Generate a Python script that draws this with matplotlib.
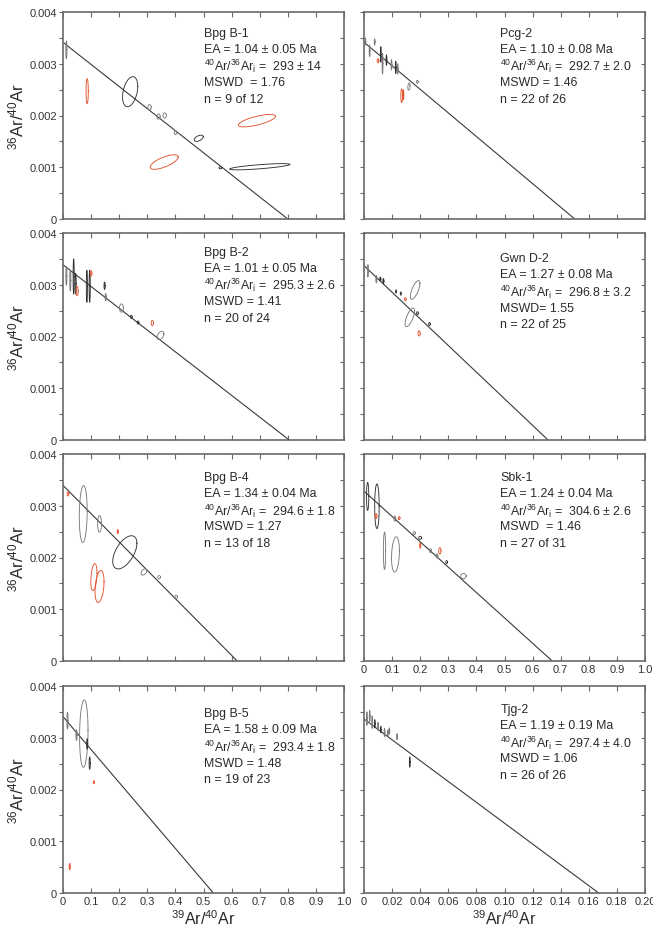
import numpy as np
import matplotlib
matplotlib.use("Agg")
import matplotlib.pyplot as plt

plt.rcParams['font.family'] = ['Liberation Sans', 'DejaVu Sans']
plt.rcParams['mathtext.fontset'] = 'custom'
plt.rcParams['mathtext.rm'] = 'Liberation Sans'
plt.rcParams['mathtext.it'] = 'Liberation Sans:italic'
plt.rcParams['mathtext.bf'] = 'Liberation Sans:bold'

# ---------------- data ----------------
# each ellipse: (x, half-width x, y, half-height y, correlation, colour key)
B1_PTS = [
    (0.012, 0.002, 0.00327, 0.00017, 0.0, 'g'),
    (0.086, 0.004, 0.00247, 0.00024, 0.0, 'r'),
    (0.239, 0.027, 0.00246, 0.00029, 0.35, 'k'),
    (0.308, 0.006, 0.00216, 0.00005, 0.0, 'g'),
    (0.340, 0.006, 0.00198, 0.00005, 0.0, 'g'),
    (0.362, 0.006, 0.00200, 0.00005, 0.0, 'g'),
    (0.400, 0.004, 0.00167, 0.00004, 0.0, 'g'),
    (0.483, 0.016, 0.00156, 0.00006, 0.5, 'k'),
    (0.560, 0.005, 0.00099, 0.00002, 0.0, 'k'),
    (0.690, 0.066, 0.00190, 0.00012, 0.7, 'r'),
    (0.360, 0.050, 0.00110, 0.00014, 0.7, 'r'),
    (0.700, 0.107, 0.00101, 0.00006, 0.75, 'k'),
]
PCG2_PTS = [
    (0.005, 0.0015, 0.00343, 0.00007, 0.0, 'g'),
    (0.020, 0.0015, 0.00325, 0.00011, 0.0, 'g'),
    (0.038, 0.0015, 0.00342, 0.00006, 0.0, 'g'),
    (0.050, 0.003, 0.00306, 0.00004, 0.0, 'r'),
    (0.060, 0.0015, 0.00318, 0.00015, 0.0, 'k'),
    (0.066, 0.0015, 0.00300, 0.00020, 0.0, 'g'),
    (0.080, 0.0015, 0.00307, 0.00010, 0.0, 'k'),
    (0.098, 0.0015, 0.00298, 0.00010, 0.0, 'g'),
    (0.113, 0.0015, 0.00293, 0.00012, 0.0, 'k'),
    (0.120, 0.0015, 0.00290, 0.00010, 0.0, 'g'),
    (0.134, 0.003, 0.00238, 0.00013, 0.0, 'r'),
    (0.140, 0.0015, 0.00240, 0.00010, 0.0, 'r'),
    (0.160, 0.004, 0.00256, 0.00007, 0.3, 'g'),
    (0.190, 0.003, 0.00265, 0.00003, 0.0, 'g'),
]
B2_PTS = [
    (0.012, 0.002, 0.00317, 0.00018, 0.0, 'g'),
    (0.026, 0.002, 0.00308, 0.00020, 0.0, 'g'),
    (0.038, 0.002, 0.00316, 0.00034, 0.0, 'k'),
    (0.045, 0.002, 0.00302, 0.00020, 0.0, 'k'),
    (0.050, 0.004, 0.00288, 0.00009, 0.0, 'r'),
    (0.085, 0.002, 0.00297, 0.00031, 0.0, 'k'),
    (0.095, 0.002, 0.00297, 0.00031, 0.0, 'k'),
    (0.100, 0.003, 0.00322, 0.00005, 0.0, 'r'),
    (0.148, 0.002, 0.00298, 0.00007, 0.0, 'k'),
    (0.152, 0.002, 0.00276, 0.00007, 0.0, 'g'),
    (0.208, 0.007, 0.00255, 0.00008, 0.0, 'g'),
    (0.243, 0.003, 0.00238, 0.00003, 0.0, 'k'),
    (0.267, 0.003, 0.00227, 0.00003, 0.0, 'k'),
    (0.318, 0.004, 0.00226, 0.00005, 0.0, 'r'),
    (0.347, 0.012, 0.00202, 0.00008, 0.4, 'g'),
]
GWN_PTS = [
    (0.014, 0.002, 0.00327, 0.00012, 0.0, 'g'),
    (0.044, 0.002, 0.00311, 0.00007, 0.0, 'g'),
    (0.058, 0.002, 0.00311, 0.00004, 0.0, 'k'),
    (0.069, 0.002, 0.00307, 0.00005, 0.0, 'k'),
    (0.114, 0.002, 0.00287, 0.00003, 0.0, 'k'),
    (0.131, 0.002, 0.00283, 0.00003, 0.0, 'k'),
    (0.147, 0.003, 0.00272, 0.00003, 0.0, 'r'),
    (0.182, 0.017, 0.00290, 0.00018, 0.7, 'g'),
    (0.163, 0.017, 0.00237, 0.00018, 0.7, 'g'),
    (0.190, 0.003, 0.00245, 0.00003, 0.0, 'k'),
    (0.196, 0.004, 0.00206, 0.00005, 0.0, 'r'),
    (0.233, 0.003, 0.00224, 0.00003, 0.0, 'k'),
]
B4_PTS = [
    (0.018, 0.003, 0.00323, 0.00004, 0.0, 'r'),
    (0.072, 0.014, 0.00284, 0.00055, 0.1, 'g'),
    (0.130, 0.007, 0.00265, 0.00016, 0.0, 'g'),
    (0.195, 0.002, 0.00250, 0.00004, 0.0, 'r'),
    (0.220, 0.043, 0.00210, 0.00032, 0.55, 'k'),
    (0.288, 0.010, 0.00172, 0.00006, 0.4, 'g'),
    (0.342, 0.005, 0.00162, 0.00003, 0.0, 'g'),
    (0.403, 0.005, 0.00124, 0.00003, 0.0, 'g'),
    (0.110, 0.011, 0.00162, 0.00026, 0.3, 'r'),
    (0.130, 0.016, 0.00144, 0.00031, 0.3, 'r'),
]
SBK_PTS = [
    (0.013, 0.004, 0.00318, 0.00027, 0.0, 'k'),
    (0.046, 0.008, 0.00299, 0.00043, 0.0, 'k'),
    (0.043, 0.003, 0.00280, 0.00005, 0.0, 'r'),
    (0.110, 0.003, 0.00275, 0.00005, 0.0, 'g'),
    (0.125, 0.003, 0.00276, 0.00003, 0.0, 'r'),
    (0.073, 0.004, 0.00213, 0.00036, 0.0, 'g'),
    (0.112, 0.014, 0.00206, 0.00034, 0.2, 'g'),
    (0.179, 0.004, 0.00247, 0.00003, 0.0, 'g'),
    (0.200, 0.005, 0.00238, 0.00003, 0.0, 'k'),
    (0.200, 0.002, 0.00223, 0.00005, 0.0, 'r'),
    (0.237, 0.003, 0.00213, 0.00004, 0.0, 'g'),
    (0.260, 0.003, 0.00203, 0.00004, 0.0, 'g'),
    (0.270, 0.004, 0.00213, 0.00006, 0.0, 'r'),
    (0.294, 0.003, 0.00191, 0.00003, 0.0, 'k'),
    (0.354, 0.010, 0.00164, 0.00005, 0.0, 'g'),
]
B5_PTS = [
    (0.016, 0.002, 0.00333, 0.00016, 0.0, 'g'),
    (0.048, 0.002, 0.00305, 0.00010, 0.0, 'g'),
    (0.074, 0.015, 0.00308, 0.00065, 0.1, 'g'),
    (0.086, 0.002, 0.00288, 0.00010, 0.0, 'k'),
    (0.095, 0.002, 0.00251, 0.00012, 0.0, 'k'),
    (0.110, 0.002, 0.00214, 0.00003, 0.0, 'r'),
    (0.024, 0.002, 0.00051, 0.00006, 0.0, 'r'),
]
TJG_PTS = [
    (0.0021, 0.0003, 0.00337, 0.00013, 0.0, 'g'),
    (0.0041, 0.0003, 0.00342, 0.00011, 0.0, 'g'),
    (0.0058, 0.0003, 0.00330, 0.00012, 0.0, 'g'),
    (0.0077, 0.0003, 0.00327, 0.00008, 0.0, 'k'),
    (0.0100, 0.0003, 0.00322, 0.00008, 0.0, 'g'),
    (0.0120, 0.0003, 0.00316, 0.00006, 0.0, 'k'),
    (0.0146, 0.0003, 0.00310, 0.00008, 0.0, 'g'),
    (0.0170, 0.0003, 0.00309, 0.00006, 0.0, 'g'),
    (0.0180, 0.0003, 0.00313, 0.00006, 0.0, 'g'),
    (0.0235, 0.0003, 0.00302, 0.00006, 0.0, 'g'),
    (0.0326, 0.0003, 0.00253, 0.00010, 0.0, 'k'),
]

SAMPLES = ["Bpg B-1", "Pcg-2", "Bpg B-2", "Gwn D-2", "Bpg B-4", "Sbk-1", "Bpg B-5", "Tjg-2"]
AGES = ["1.04 ± 0.05", "1.10 ± 0.08", "1.01 ± 0.05", "1.27 ± 0.08",
        "1.34 ± 0.04", "1.24 ± 0.04", "1.58 ± 0.09", "1.19 ± 0.19"]
INITIALS = ["293 ± 14", "292.7 ± 2.0", "295.3 ± 2.6", "296.8 ± 3.2",
            "294.6 ± 1.8", "304.6 ± 2.6", "293.4 ± 1.8", "297.4 ± 4.0"]
MSWD = ["MSWD  = 1.76", "MSWD = 1.46", "MSWD = 1.41", "MSWD= 1.55",
        "MSWD = 1.27", "MSWD  = 1.46", "MSWD = 1.48", "MSWD = 1.06"]
NCOUNT = ["n = 9 of 12", "n = 22 of 26", "n = 20 of 24", "n = 22 of 25",
          "n = 13 of 18", "n = 27 of 31", "n = 19 of 23", "n = 26 of 26"]
INIT_VAL = [293.0, 292.7, 295.3, 296.8, 294.6, 304.6, 293.4, 297.4]
X_INTERCEPT = [0.80, 0.75, 0.805, 0.655, 0.62, 0.67, 0.535, 0.167]
ALL_PTS = [B1_PTS, PCG2_PTS, B2_PTS, GWN_PTS, B4_PTS, SBK_PTS, B5_PTS, TJG_PTS]
X_MAX = [1.0, 1.0, 1.0, 1.0, 1.0, 1.0, 1.0, 0.2]
X_STEP = [0.1, 0.1, 0.1, 0.1, 0.1, 0.1, 0.1, 0.02]

COLORS = {'k': '#333333', 'g': '#7a7a7a', 'r': '#e4532f'}

# ---------------- layout ----------------
fig = plt.figure(figsize=(6.53, 9.29), dpi=100)
W, H = 653, 929
col_left = [63, 364]
ax_w = 281
row_top = [13, 234, 455, 687]
ax_h = 207
text_y = [0.90, 0.90, 0.91, 0.88, 0.89, 0.89, 0.87, 0.89]

spine_col = '#6a6a6a'
t = np.linspace(0, 2 * np.pi, 100)

for i in range(8):
    r, c = divmod(i, 2)
    left = col_left[c] / W
    bottom = 1 - (row_top[r] + ax_h) / H
    ax = fig.add_axes([left, bottom, ax_w / W, ax_h / H])
    xmax = X_MAX[i]
    ax.set_xlim(0, xmax)
    ax.set_ylim(0, 0.004)

    # regression line
    y0 = 1.0 / INIT_VAL[i]
    ax.plot([0, X_INTERCEPT[i]], [y0, 0], color='#3a3a3a', lw=0.8, zorder=2)

    # error ellipses
    for (cx, sx, cy, sy, rho, ck) in ALL_PTS[i]:
        ex = cx + sx * np.cos(t)
        ey = cy + sy * (rho * np.cos(t) + np.sqrt(1 - rho ** 2) * np.sin(t))
        ax.plot(ex, ey, color=COLORS[ck], lw=0.65, zorder=3)

    # annotation
    ty = text_y[i]
    dy = 0.08
    lines = [SAMPLES[i], "EA = " + AGES[i] + " Ma",
             r"$^{40}$Ar/$^{36}$Ar$_{\rm i}$ =  " + INITIALS[i],
             MSWD[i], NCOUNT[i]]
    tx = 0.50 if c == 0 else 0.485
    for k, s in enumerate(lines):
        ax.text(tx, ty - k * dy, s, transform=ax.transAxes, fontsize=8.9,
                color='#2a2a2a', va='center', ha='left')

    # ticks
    ax.set_xticks(np.arange(0, xmax + 1e-9, X_STEP[i]))
    ax.set_yticks([0, 0.001, 0.002, 0.003, 0.004])
    ax.set_yticks([0.0005, 0.0015, 0.0025, 0.0035], minor=True)
    ax.tick_params(axis='x', which='both', direction='in', top=True, bottom=True,
                   length=3.5, width=0.8, color=spine_col, labelsize=8,
                   labelcolor='#333333', pad=2)
    ax.tick_params(axis='y', which='both', direction='out', left=True, right=False,
                   length=3, width=0.8, color=spine_col, labelsize=8,
                   labelcolor='#333333', pad=1.5)
    sec = ax.secondary_yaxis('right')
    sec.set_yticks([0.0005, 0.001, 0.0015, 0.002, 0.0025, 0.003, 0.0035])
    sec.tick_params(direction='in', length=3, width=0.8, color=spine_col,
                    labelright=False)
    sec.spines['right'].set_visible(False)

    for sp in ax.spines.values():
        sp.set_color(spine_col)
        sp.set_linewidth(1.2)

    if c == 0:
        ax.set_yticklabels(['0', '0.001', '0.002', '0.003', '0.004'])
        ax.set_ylabel(r"$^{36}$Ar/$^{40}$Ar", fontsize=12, color='#2a2a2a', labelpad=2)
    else:
        ax.set_yticklabels([])

    show_x = (i == 6) or (i == 5) or (i == 7)
    if show_x:
        if xmax == 1.0:
            labs = ['0'] + ['%.1f' % v for v in np.arange(0.1, 1.0001, 0.1)]
        else:
            labs = ['0'] + ['%.2f' % v for v in np.arange(0.02, 0.2001, 0.02)]
        ax.set_xticklabels(labs)
    else:
        ax.set_xticklabels([])
    if r == 3:
        ax.set_xlabel(r"$^{39}$Ar/$^{40}$Ar", fontsize=11.5, color='#2a2a2a', labelpad=2)

fig.savefig("out.png", dpi=100)
